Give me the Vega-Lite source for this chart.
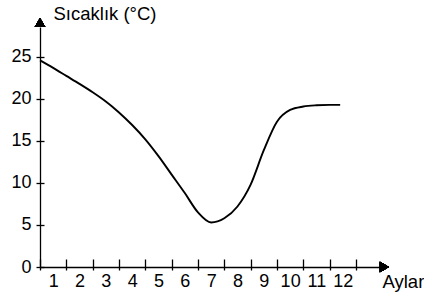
{
  "$schema": "https://vega.github.io/schema/vega-lite/v6.json",
  "width": 339,
  "height": 240,
  "autosize": "none",
  "padding": {"left": 40, "top": 27, "right": 45, "bottom": 29},
  "config": {
    "view": {"stroke": null},
    "font": "Liberation Sans",
    "axis": {"grid": false, "domainColor": "black", "tickColor": "black", "labelColor": "black", "titleColor": "black"}
  },
  "data": {"values": [
    {"ay": 0.5, "sicaklik": 24.6},
    {"ay": 1.0, "sicaklik": 23.7},
    {"ay": 1.5, "sicaklik": 22.75},
    {"ay": 2.0, "sicaklik": 21.8},
    {"ay": 2.5, "sicaklik": 20.8},
    {"ay": 3.0, "sicaklik": 19.7},
    {"ay": 3.5, "sicaklik": 18.4},
    {"ay": 4.0, "sicaklik": 16.9},
    {"ay": 4.5, "sicaklik": 15.2},
    {"ay": 5.0, "sicaklik": 13.2},
    {"ay": 5.5, "sicaklik": 11.0},
    {"ay": 6.0, "sicaklik": 8.8},
    {"ay": 6.5, "sicaklik": 6.5},
    {"ay": 7.0, "sicaklik": 5.3},
    {"ay": 7.5, "sicaklik": 5.8},
    {"ay": 8.0, "sicaklik": 7.2},
    {"ay": 8.5, "sicaklik": 9.8},
    {"ay": 9.0, "sicaklik": 13.9},
    {"ay": 9.5, "sicaklik": 17.3},
    {"ay": 10.0, "sicaklik": 18.7},
    {"ay": 10.5, "sicaklik": 19.1},
    {"ay": 11.0, "sicaklik": 19.25},
    {"ay": 11.5, "sicaklik": 19.3},
    {"ay": 11.9, "sicaklik": 19.3}
  ]},
  "layer": [
    {
      "mark": {"type": "line", "interpolate": "monotone", "color": "black", "strokeWidth": 1.9},
      "encoding": {
        "x": {"field": "ay", "type": "quantitative",
          "scale": {"domain": [0.5, 13.375], "nice": false, "zero": false},
          "axis": {"orient": "bottom", "values": [1,2,3,4,5,6,7,8,9,10,11,12], "ticks": false, "tickSize": 0,
            "labelFontSize": 18, "labelPadding": 5, "labelFlush": false, "labelOverlap": false,
            "domainWidth": 1.3, "title": "Aylar", "titleX": 342, "titleY": 20, "titleAlign": "left",
            "titleBaseline": "alphabetic", "titleFontSize": 18.5, "titleFontWeight": "normal"}},
        "y": {"field": "sicaklik", "type": "quantitative",
          "scale": {"domain": [0, 28.57], "nice": false},
          "axis": {"orient": "left", "values": [0,5,10,15,20,25], "ticks": false, "tickSize": 0,
            "labelFontSize": 18, "labelPadding": 9, "labelFlush": false, "labelOverlap": false,
            "domainWidth": 1.3, "title": "Sıcaklık (°C)", "titleAngle": 0, "titleX": 13, "titleY": -8,
            "titleAlign": "left", "titleBaseline": "alphabetic", "titleFontSize": 18.5, "titleFontWeight": "normal"}}
      }
    },
    {
      "mark": {"type": "line", "opacity": 0},
      "encoding": {
        "x": {"field": "ay", "type": "quantitative",
          "scale": {"domain": [0.5, 13.375], "nice": false, "zero": false},
          "axis": {"orient": "bottom", "values": [0.5,1.5,2.5,3.5,4.5,5.5,6.5,7.5,8.5,9.5,10.5,11.5,12.5],
            "labels": false, "domain": false, "tickSize": 11, "offset": -8, "tickWidth": 1.3, "title": null}},
        "y": {"field": "sicaklik", "type": "quantitative",
          "scale": {"domain": [0, 28.57], "nice": false},
          "axis": {"orient": "left", "values": [0,5,10,15,20,25], "labels": false, "domain": false,
            "tickSize": 8, "offset": -4, "tickWidth": 1.3, "title": null}}
      }
    },
    {
      "mark": {"type": "point", "shape": "triangle-up", "filled": true, "color": "black", "size": 110, "opacity": 1},
      "encoding": {
        "x": {"datum": 0.5, "type": "quantitative", "scale": {"domain": [0.5, 13.375], "nice": false, "zero": false}, "axis": null},
        "y": {"datum": 29.1, "type": "quantitative", "scale": {"domain": [0, 28.57], "nice": false}, "axis": null}
      }
    },
    {
      "mark": {"type": "point", "shape": "triangle-right", "filled": true, "color": "black", "size": 110, "opacity": 1},
      "encoding": {
        "x": {"datum": 13.58, "type": "quantitative", "scale": {"domain": [0.5, 13.375], "nice": false, "zero": false}, "axis": null},
        "y": {"datum": 0, "type": "quantitative", "scale": {"domain": [0, 28.57], "nice": false}, "axis": null}
      }
    }
  ],
  "resolve": {"axis": {"x": "independent", "y": "independent"}}
}
